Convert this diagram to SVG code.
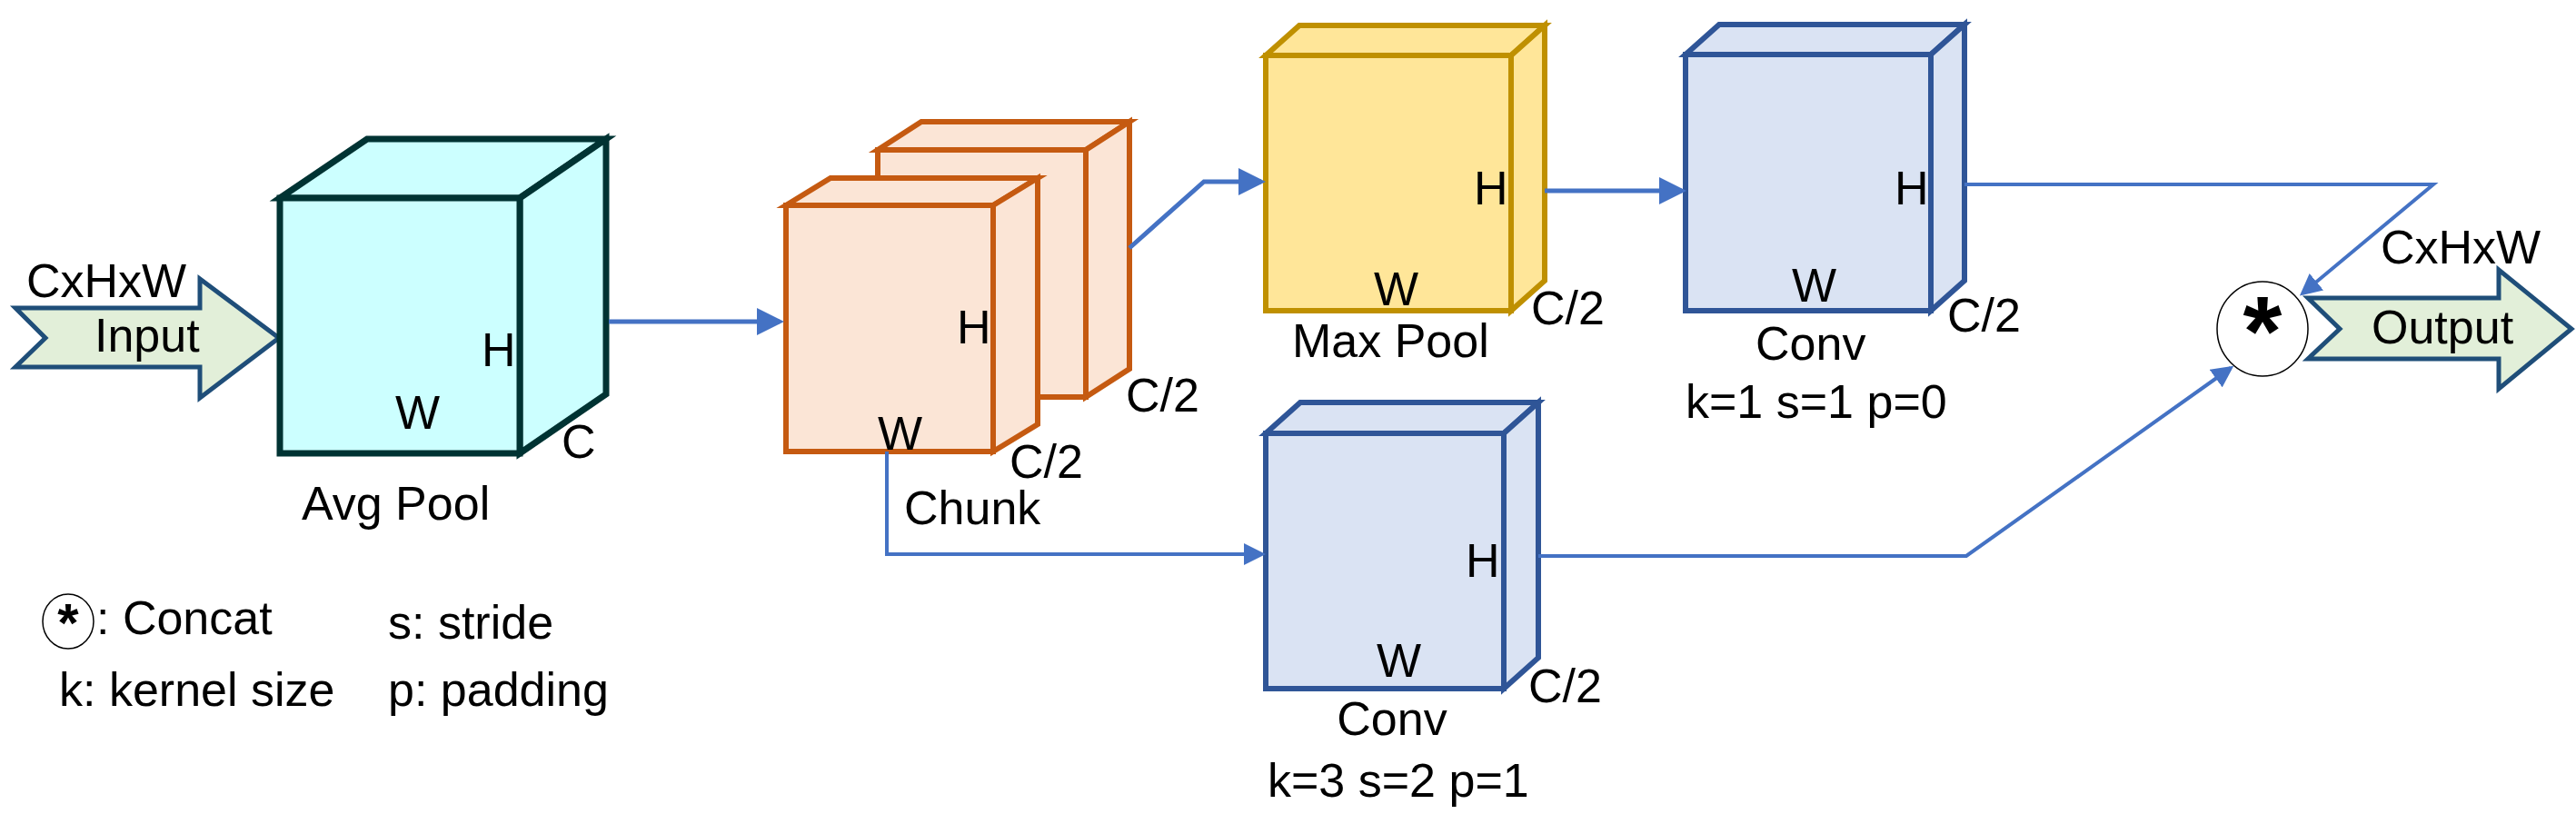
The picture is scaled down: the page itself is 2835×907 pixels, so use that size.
<svg xmlns="http://www.w3.org/2000/svg" width="2835" height="907" viewBox="0 0 2835 907">
<style>
text{font-family:"Liberation Sans",Arial,sans-serif;font-size:52px;fill:#000}
.c{stroke:#4472c4;stroke-width:5;fill:none}
.cy{fill:#ccffff;stroke:#003333;stroke-width:7;stroke-linejoin:miter}
.or{fill:#fbe5d6;stroke:#c55a11;stroke-width:6}
.yl{fill:#ffe699;stroke:#bf9000;stroke-width:6}
.bl{fill:#dae3f3;stroke:#2f5597;stroke-width:6}
.ar{fill:#e2efd9;stroke:#1f4e79;stroke-width:5}
</style>
<defs>
<marker id="ah" markerWidth="6" markerHeight="6" refX="5" refY="3" orient="auto" markerUnits="strokeWidth">
<path d="M0,0 L6,3 L0,6 Z" fill="#4472c4"/>
</marker>
</defs>
<g id="input">
<path class="ar" d="M17,339 H220 V307 L307,372 L220,438 V404 H17 L50,372 Z"/>
<text x="29" y="327">CxHxW</text>
<text x="104" y="387">Input</text>
</g>
<g id="avgpool">
<path class="cy" d="M308,218 L404,153 H667 L572,218 Z"/>
<path class="cy" d="M572,218 L667,153 V434 L572,499 Z"/>
<rect class="cy" x="308" y="218" width="264" height="281"/>
<text x="530" y="403">H</text>
<text x="435" y="472">W</text>
<text x="618" y="504">C</text>
<text x="332" y="572">Avg Pool</text>
</g>
<g id="chunk">
<path class="or" d="M966,165 L1014,134 H1243 L1195,165 Z"/>
<path class="or" d="M1195,165 L1243,134 V406 L1195,437 Z"/>
<rect class="or" x="966" y="165" width="229" height="272"/>
<path class="or" d="M865,226 L914,196 H1142 L1093,226 Z"/>
<path class="or" d="M1093,226 L1142,196 V467 L1093,497 Z"/>
<rect class="or" x="865" y="226" width="228" height="271"/>
<text x="1053" y="378">H</text>
<text x="966" y="495">W</text>
<text x="1111" y="526">C/2</text>
<text x="1239" y="453">C/2</text>
<text x="995" y="577">Chunk</text>
</g>
<g id="maxpool">
<path class="yl" d="M1393,61 L1430,28 H1700 L1663,61 Z"/>
<path class="yl" d="M1663,61 L1700,28 V309 L1663,342 Z"/>
<rect class="yl" x="1393" y="61" width="270" height="281"/>
<text x="1622" y="225">H</text>
<text x="1512" y="336">W</text>
<text x="1685" y="357">C/2</text>
<text x="1422" y="393">Max Pool</text>
</g>
<g id="conv1">
<path class="bl" d="M1855,60 L1892,27 H2162 L2125,60 Z"/>
<path class="bl" d="M2125,60 L2162,27 V309 L2125,342 Z"/>
<rect class="bl" x="1855" y="60" width="270" height="282"/>
<text x="2085" y="225">H</text>
<text x="1972" y="332">W</text>
<text x="2143" y="365">C/2</text>
<text x="1932" y="396">Conv</text>
<text x="1855" y="460">k=1 s=1 p=0</text>
</g>
<g id="conv3">
<path class="bl" d="M1393,477 L1431,443 H1693 L1655,477 Z"/>
<path class="bl" d="M1655,477 L1693,443 V724 L1655,758 Z"/>
<rect class="bl" x="1393" y="477" width="262" height="281"/>
<text x="1613" y="635">H</text>
<text x="1515" y="745">W</text>
<text x="1682" y="773">C/2</text>
<text x="1532" y="809" text-anchor="middle">Conv</text>
<text x="1395" y="877">k=3 s=2 p=1</text>
</g>
<g id="concat">
<ellipse cx="2490" cy="362" rx="50" ry="52" fill="#fff" stroke="#000" stroke-width="1.5"/>
<text x="2490" y="402" text-anchor="middle" style="font-size:110px;font-weight:bold">*</text>
</g>
<g id="output">
<path class="ar" d="M2540,328 H2750 V297 L2830,362 L2750,428 V395 H2540 L2575,362 Z"/>
<text x="2610" y="378">Output</text>
<text x="2620" y="290">CxHxW</text>
</g>
<g id="legend">
<ellipse cx="75" cy="684" rx="28" ry="30" fill="#fff" stroke="#000" stroke-width="1.5"/>
<text x="75" y="706" text-anchor="middle" style="font-size:60px;font-weight:bold">*</text>
<text x="106" y="698">: Concat</text>
<text x="427" y="703">s: stride</text>
<text x="65" y="777">k: kernel size</text>
<text x="427" y="777">p: padding</text>
</g>
<g id="connectors">
<path class="c" d="M670,354 H858" marker-end="url(#ah)"/>
<path class="c" d="M1243,273 L1325,200 H1388" marker-end="url(#ah)"/>
<path class="c" d="M1700,210 H1851" marker-end="url(#ah)"/>
<path class="c" d="M976,497 V610 H1389" marker-end="url(#ah)" style="stroke-width:4"/>
<path class="c" d="M2162,203 H2678 L2534,323" marker-end="url(#ah)" style="stroke-width:4"/>
<path class="c" d="M1693,612 H2164 L2455,405" marker-end="url(#ah)" style="stroke-width:4"/>
</g>
</svg>
